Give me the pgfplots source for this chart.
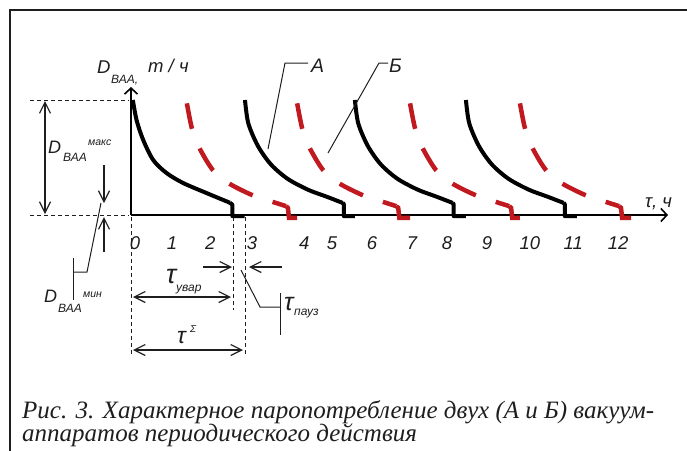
\documentclass[border=0pt]{standalone}
\usepackage{pgfplots}
\pgfplotsset{compat=1.18}
\usetikzlibrary{arrows.meta}
\usepackage{fontspec}
\setmainfont{Liberation Serif}
\newfontfamily\lab{Liberation Sans}
\definecolor{curveB}{RGB}{192,26,32}
\definecolor{ink}{RGB}{30,30,30}
\newcommand\fs[1]{\fontsize{#1}{#1}\selectfont}

\begin{document}
\begin{tikzpicture}
\useasboundingbox (0,0) rectangle (687pt,-450pt);
% outer frame
\draw[line width=1.4pt, ink] (10pt,-451pt) -- (10pt,-10pt) -- (688pt,-10pt);

\begin{axis}[
  at={(131pt,-215pt)}, anchor=south west,
  scale only axis, width=537pt, height=128pt,
  xmin=0, xmax=14.51, ymin=0, ymax=11.13,
  axis lines=left,
  axis line style={line width=1.6pt, -{Straight Barb[length=6pt,width=13pt,line width=1.6pt]}},
  ytick=\empty,
  xtick={0.11,1.11,2.14,3.27,4.68,5.43,6.51,7.59,8.54,9.62,10.78,11.95,13.16},
  xticklabels={0,1,2,3,4,5,6,7,8,9,10,11,12},
  major tick length=0pt,
  xticklabel style={font=\lab\itshape\fs{18.5}, text=ink, anchor=center, yshift=-28pt},
  clip=false,
]
\pgfplotsset{cycA/.style={black, line width=4pt, smooth}, stepA/.style={black, line width=4pt, line join=round},
  cycB/.style={curveB, line width=4.5pt, smooth, dash pattern=on 26pt off 21pt}, stepB/.style={curveB, line width=4.5pt}}
% --- apparatus A: evaporation (smooth decay), then pause ---
\addplot[cycA] coordinates {(0.05,10) (0.15,8.26) (0.33,6.52) (0.6,4.78) (0.96,3.65) (1.41,2.78) (2.04,1.91) (2.67,1.07)};
\addplot[stepA] coordinates {(2.67,1.07) (2.74,0.9) (2.74,-0.1) (3.07,-0.1)};
\addplot[cycA] coordinates {(3.08,10) (3.17,7.97) (3.43,6.0) (3.78,4.4) (4.23,3.15) (4.78,2.2) (5.28,1.6) (5.72,1.05)};
\addplot[stepA] coordinates {(5.72,1.05) (5.75,0.95) (5.75,-0.1) (6.05,-0.1)};
\addplot[cycA] coordinates {(6.05,10) (6.14,7.97) (6.40,6.0) (6.75,4.4) (7.20,3.15) (7.75,2.2) (8.25,1.6) (8.69,1.05)};
\addplot[stepA] coordinates {(8.69,1.05) (8.72,0.95) (8.72,-0.1) (9.05,-0.1)};
\addplot[cycA] coordinates {(9.05,10) (9.14,7.97) (9.40,6.0) (9.75,4.4) (10.20,3.15) (10.75,2.2) (11.25,1.6) (11.69,1.05)};
\addplot[stepA] coordinates {(11.69,1.05) (11.72,0.95) (11.72,-0.1) (12.05,-0.1)};
% --- apparatus B ---
\addplot[cycB] coordinates {(1.51,9.71) (1.645,7.54) (1.83,5.94) (2.21,3.91) (2.64,2.76) (3.27,1.74) (3.81,1.16) (4.19,0.77)};
\addplot[stepB] coordinates {(4.19,0.77) (4.24,0.62) (4.27,-0.26) (4.49,-0.26)};
\addplot[cycB] coordinates {(4.49,9.71) (4.625,7.54) (4.81,5.94) (5.19,3.91) (5.62,2.76) (6.25,1.74) (6.79,1.16) (7.17,0.77)};
\addplot[stepB] coordinates {(7.17,0.77) (7.22,0.62) (7.25,-0.26) (7.54,-0.26)};
\addplot[cycB] coordinates {(7.54,9.71) (7.675,7.54) (7.86,5.94) (8.24,3.91) (8.67,2.76) (9.30,1.74) (9.84,1.16) (10.22,0.77)};
\addplot[stepB] coordinates {(10.22,0.77) (10.27,0.62) (10.30,-0.26) (10.51,-0.26)};
\addplot[cycB] coordinates {(10.51,9.71) (10.645,7.54) (10.83,5.94) (11.21,3.91) (11.64,2.76) (12.27,1.74) (12.81,1.16) (13.19,0.77)};
\addplot[stepB] coordinates {(13.19,0.77) (13.24,0.62) (13.27,-0.26) (13.51,-0.26)};
\end{axis}

% annotations (1 unit = 1pt, y downward)
\begin{scope}[x=1pt, y=-1pt, ink, font=\lab\itshape,
  dsh/.style={line width=0.9pt, dash pattern=on 4pt off 3pt},
  arr/.style={line width=1.2pt, -{Straight Barb[length=11pt,width=11pt,line width=1.2pt]}},
  darr/.style={line width=1.2pt, {Straight Barb[length=11pt,width=11pt,line width=1.2pt]}-{Straight Barb[length=11pt,width=11pt,line width=1.2pt]}},
  lead/.style={line width=1pt},
  every node/.style={inner sep=0pt}]
% axis titles
\node[anchor=base west] at (97,73) {\fs{18.5}D};
\node[anchor=base west] at (111,83) {\fs{12}ВАА,};
\node[anchor=base west] at (148,72) {\fs{18.5}т / ч};
\node[anchor=base west] at (645,207) {\fs{18.5}τ, ч};
% curve labels
\node[anchor=base west] at (311,72) {\fs{19.5}А};
\draw[lead] (308,63) -- (285,63) -- (268,149);
\node[anchor=base west] at (389,72) {\fs{19.5}Б};
\draw[lead] (388,63) -- (379,63) -- (328,153);
% D max
\draw[dsh] (30,100) -- (129,100);
\draw[dsh] (30,215) -- (129,215);
\draw[darr] (45,101) -- (45,214);
\node[anchor=base west] at (48,153) {\fs{18}D};
\node[anchor=base west] at (63,161) {\fs{12}ВАА};
\node[anchor=base west] at (88,145) {\fs{10.5}макс};
% D min
\draw[arr] (104,165) -- (104,203);
\draw[arr] (104,252) -- (104,217);
\draw[lead] (101,203) -- (87,272) -- (73,272);
\draw[lead] (73,258) -- (73,300);
\node[anchor=base west] at (44,302) {\fs{18}D};
\node[anchor=base west] at (58,312) {\fs{12}ВАА};
\node[anchor=base west] at (83,297) {\fs{10.5}мин};
% time intervals
\draw[dsh] (131,217) -- (131,355);
\draw[dsh] (233,217) -- (233,310);
\draw[dsh] (245,217) -- (245,355);
\draw[darr] (133,297) -- (231,297);
\node[anchor=base west] at (166,283) {\fs{27}τ};
\node[anchor=base west] at (176,291) {\fs{12}увар};
\draw[darr] (133,350) -- (243,350);
\node[anchor=base west] at (177,343) {\fs{23}τ};
\node[anchor=base west] at (190,332) {\fs{10}Σ};
\draw[arr] (203,267) -- (232,267);
\draw[arr] (282,267) -- (249,267);
\draw[lead] (241,270) -- (260,307) -- (280,307);
\draw[lead] (280,293) -- (280,335);
\node[anchor=base west] at (284,310) {\fs{25}τ};
\node[anchor=base west] at (294,315) {\fs{12}пауз};
% caption
\node[anchor=base west, font=\itshape\fs{25}] at (22,418) {Рис. 3. Характерное паропотребление двух (А и Б) вакуум-};
\node[anchor=base west, font=\itshape\fs{25}] at (22,441) {аппаратов периодического действия};
\end{scope}
\end{tikzpicture}
\end{document}
